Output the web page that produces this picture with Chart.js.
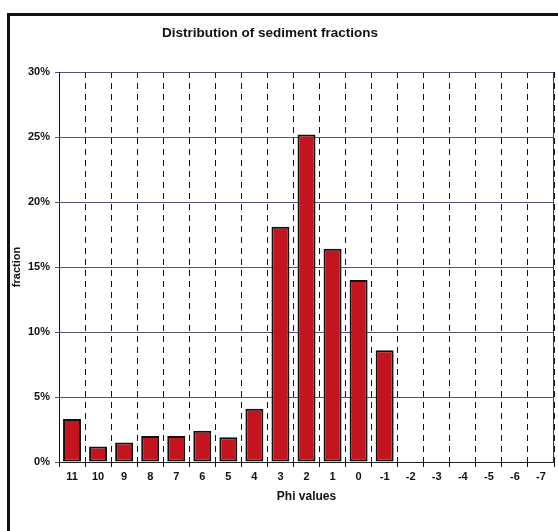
<!DOCTYPE html>
<html>
<head>
<meta charset="utf-8">
<script src="https://cdn.jsdelivr.net/npm/chart.js@4/dist/chart.umd.min.js"></script>
<style>
  html, body { margin: 0; padding: 0; background: #fff; }
  #wrap { position: relative; width: 558px; height: 531px; overflow: hidden; }
  #frame { position: absolute; left: 7px; top: 13px; width: 600px; height: 600px;
           border-left: 3px solid #111; border-top: 3px solid #111; }
  canvas { position: absolute; left: 0; top: 0; }
</style>
</head>
<body>
<div id="wrap">
  <div id="frame"></div>
  <canvas id="chart" width="558" height="531"></canvas>
</div>
<script>
const phiLabels = ['11', '10', '9', '8', '7', '6', '5', '4', '3', '2', '1', '0', '-1', '-2', '-3', '-4', '-5', '-6', '-7'];
const fractions = [3.3, 1.2, 1.5, 2.0, 2.0, 2.4, 1.9, 4.1, 18.1, 25.2, 16.4, 14.0, 8.6, 0, 0, 0, 0, 0, 0];
const yTicks = [0, 5, 10, 15, 20, 25, 30];
const chartTitle = 'Distribution of sediment fractions';

const font = 'Liberation Sans, Arial, sans-serif';

// title (centred on the whole frame, not the canvas) + solid right border of the plot
const plotFrame = {
  id: 'plotFrame',
  afterDatasetsDraw(chart) {
    const { ctx, chartArea: a } = chart;
    ctx.save();
    ctx.strokeStyle = '#3a3550';
    ctx.lineWidth = 1;
    ctx.beginPath();
    ctx.moveTo(a.right - 0.5, a.top);
    ctx.lineTo(a.right - 0.5, a.bottom);
    ctx.stroke();
    ctx.fillStyle = '#111';
    ctx.font = 'bold 13.5px ' + font;
    ctx.textAlign = 'center';
    ctx.textBaseline = 'middle';
    ctx.fillText(chartTitle, 270, 33);
    ctx.restore();
  }
};

new Chart(document.getElementById('chart'), {
  type: 'bar',
  data: {
    labels: phiLabels,
    datasets: [{
      data: fractions,
      backgroundColor: '#c4141f',
      borderColor: '#111',
      borderWidth: 2,
      borderSkipped: false,
      categoryPercentage: 1,
      barPercentage: 0.69,
    }]
  },
  options: {
    responsive: false,
    animation: false,
    layout: { padding: { left: 10, right: 4, top: 72, bottom: 19 } },
    plugins: {
      legend: { display: false },
      tooltip: { enabled: false },
      title: { display: false }
    },
    scales: {
      x: {
        afterFit(scale) { scale.height = 50; },
        grid: { color: '#111', lineWidth: 1, tickLength: 5, offset: true },
        border: { display: true, color: '#222', width: 1, dash: [6, 5] },
        ticks: { color: '#111', padding: 3, maxRotation: 0, autoSkip: false,
                 font: { family: font, size: 11, weight: 'bold' } },
        title: {
          display: true, text: 'Phi values', color: '#111',
          font: { family: font, size: 12, weight: 'bold', lineHeight: 1.2 },
          padding: { top: 0, bottom: 8 }
        }
      },
      y: {
        min: 0,
        max: 30,
        afterFit(scale) { scale.width = 49; },
        afterBuildTicks(scale) { scale.ticks = yTicks.map(v => ({ value: v })); },
        grid: { color: '#5a4f78', lineWidth: 1, tickLength: 4 },
        border: { display: true, color: '#111', width: 1 },
        ticks: {
          color: '#111', padding: 5,
          font: { family: font, size: 11, weight: 'bold' },
          callback: v => v + '%'
        },
        title: {
          display: true, text: 'fraction', color: '#111',
          font: { family: font, size: 11, weight: 'bold', lineHeight: 1.2 },
          padding: { top: 0, bottom: 0 }
        }
      }
    }
  },
  plugins: [plotFrame]
});
</script>
</body>
</html>
